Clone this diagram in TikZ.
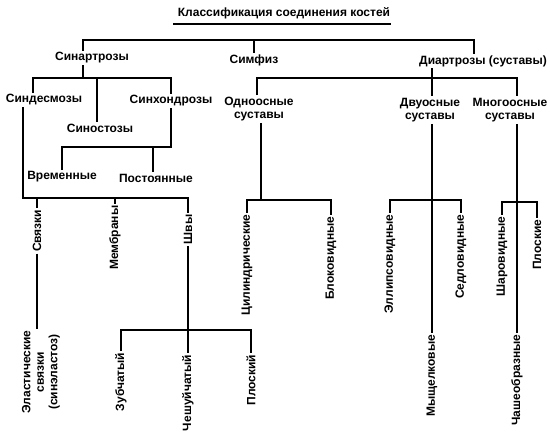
\documentclass[tikz,border=0pt]{standalone}
\usepackage{fontspec}
\setmainfont{Liberation Sans}
\begin{document}
\begin{tikzpicture}[x=1pt,y=-1pt,
  lab/.style={font=\fontsize{12}{13.5}\selectfont\bfseries,inner sep=1.5pt,align=center},
  vlab/.style={lab,rotate=90,anchor=east},
  link/.style={line width=1.7pt}]
  \useasboundingbox (0,0) rectangle (550,436);
  \node[lab] (title) at (284,13) {Классификация соединения костей};
  \draw[link] (173,24) -- (391,24);
  \node[lab] (sinar) at (92,58) {Синартрозы};
  \node[lab] (simf) at (254,60) {Симфиз};
  \node[lab] (diar) at (483,61) {Диартрозы (суставы)};
  \coordinate (a1) at (83,40);
  \coordinate (a2) at (474,40);
  \draw[link] (sinar.north -| a1) |- (a2) -- (a2 |- diar.north);
  \draw[link] (simf.north) -- (simf.north |- a1);
  \node[lab] (sindes) at (44,100) {Синдесмозы};
  \node[lab] (sinost) at (100,128) {Синостозы};
  \node[lab] (sinhon) at (171,101) {Синхондрозы};
  \coordinate (b1) at (33,78);
  \coordinate (b2) at (97,78);
  \coordinate (b3) at (171,78);
  \draw[link] (sinar.south -| a1) -- (a1 |- b1);
  \draw[link] (sindes.north -| b1) |- (b3) -- (sinhon.north);
  \draw[link] (b2) -- (sinost.north -| b2);
  \node[lab] (vrem) at (62,177) {Временные};
  \node[lab] (post) at (156,178) {Постоянные};
  \coordinate (c1) at (62,147);
  \coordinate (c2) at (153,147);
  \draw[link] (sinhon.south) |- (c1) -- (vrem.north);
  \draw[link] (c2) -- (post.north -| c2);
  \coordinate (d0) at (23,198);
  \coordinate (d1) at (37,198);
  \coordinate (d2) at (115,198);
  \coordinate (d3) at (188,198);
  \node[vlab] (svyaz) at (37,208) {Связки};
  \node[vlab] (membr) at (115,204) {Мембраны};
  \node[vlab] (shvy) at (188,213) {Швы};
  \draw[link] (sindes.south -| d0) |- (d3) -- (shvy.east);
  \draw[link] (d1) -- (svyaz.east);
  \draw[link] (d2) -- (membr.east);
  \node[vlab] (elast) at (41,329) {Эластические\\связки\\(синэластоз)};
  \draw[link] (svyaz.west) -- (svyaz.west |- elast.east);
  \coordinate (e3) at (251,330);
  \node[vlab] (zub) at (121,351) {Зубчатый};
  \node[vlab] (chesh) at (188,353) {Чешуйчатый};
  \node[vlab] (plosk) at (251,353) {Плоский};
  \draw[link] (shvy.west) -- (chesh.east);
  \draw[link] (zub.east) |- (e3) -- (plosk.east);
  \node[lab] (odno) at (259,109) {Одноосные\\суставы};
  \node[lab] (dvuo) at (430,110) {Двуосные\\суставы};
  \node[lab] (mnogo) at (510,110) {Многоосные\\суставы};
  \coordinate (f1) at (257,78);
  \coordinate (f2) at (432,78);
  \coordinate (f3) at (517,78);
  \draw[link] (diar.south -| f2) -- (dvuo.north -| f2);
  \draw[link] (odno.north -| f1) |- (f3) -- (mnogo.north -| f3);
  \coordinate (g0) at (261,200);
  \coordinate (g2) at (331,200);
  \node[vlab] (cilin) at (247,213) {Цилиндрические};
  \node[vlab] (blok) at (331,215) {Блоковидные};
  \draw[link] (odno.south -| g0) -- (g0);
  \draw[link] (cilin.east) |- (g2) -- (blok.east);
  \coordinate (h2) at (461,200);
  \node[vlab] (ellip) at (390,213) {Эллипсовидные};
  \node[vlab] (sedlo) at (461,213) {Седловидные};
  \node[vlab] (mysh) at (432,333) {Мыщелковые};
  \draw[link] (dvuo.south -| f2) -- (mysh.east);
  \draw[link] (ellip.east) |- (h2) -- (sedlo.east);
  \coordinate (i2) at (537,202);
  \node[vlab] (shar) at (502,215) {Шаровидные};
  \node[vlab] (plosk2) at (537,218) {Плоские};
  \node[vlab] (chash) at (517,333) {Чашеобразные};
  \draw[link] (mnogo.south -| f3) -- (chash.east);
  \draw[link] (shar.east) |- (i2) -- (plosk2.east);
\end{tikzpicture}
\end{document}
